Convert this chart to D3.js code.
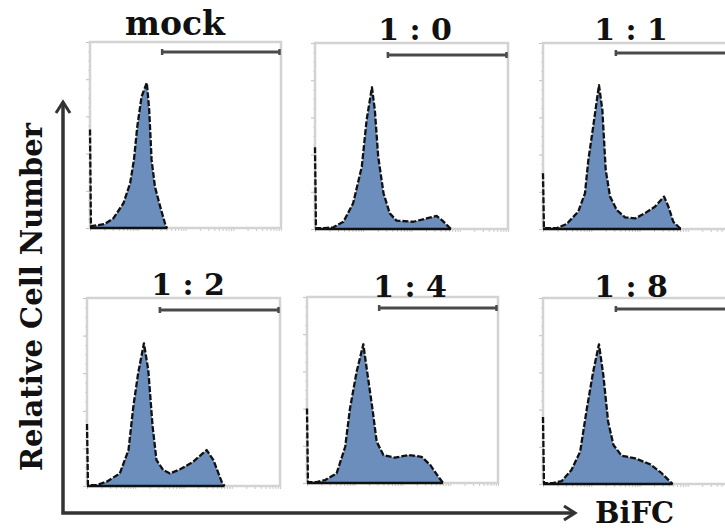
<!DOCTYPE html>
<html>
<head>
<meta charset="utf-8">
<script src="https://cdn.jsdelivr.net/npm/d3@7/dist/d3.min.js"></script>
<style>
body { margin: 0; background: #fff; }
svg { display: block; }
</style>
</head>
<body>
<svg></svg>
<script>
// sample names, one panel each
const samples = ["mock", "1 : 0", "1 : 1", "1 : 2", "1 : 4", "1 : 8"];

// histogram outlines: [log decade, % of panel height]
const mock = [[0, 53], [0.02, 1], [0.15, 1.5], [0.31, 2.2], [0.49, 5.2], [0.70, 13.3], [0.84, 24], [0.92, 36.6], [0.99, 54.5], [1.08, 70.6], [1.19, 78.1], [1.24, 63.4], [1.29, 36.6], [1.36, 22.2], [1.47, 11.5], [1.59, 0.7], [1.62, 0]];
const ratio10 = [[0, 44], [0.02, 0.5], [0.2, 0.5], [0.38, 0.9], [0.59, 3.9], [0.79, 13.8], [0.97, 33.5], [1.07, 58.6], [1.18, 76.2], [1.24, 64], [1.31, 38.9], [1.42, 19.2], [1.55, 8.4], [1.69, 4.5], [2.04, 3.9], [2.31, 5.7], [2.52, 7.0], [2.63, 4.8], [2.80, 0.4], [2.82, 0]];
const ratio11 = [[0, 30], [0.02, 0.4], [0.28, 0.4], [0.49, 2.7], [0.73, 9.3], [0.87, 19.2], [0.94, 37.1], [1.04, 55], [1.16, 77.4], [1.23, 64], [1.30, 31.7], [1.39, 17.4], [1.53, 10.2], [1.70, 6.3], [1.91, 5.7], [2.11, 8.4], [2.32, 12], [2.51, 17.4], [2.60, 12], [2.70, 3.9], [2.84, 0.4], [2.86, 0]];
const ratio12 = [[0, 33], [0.02, 0.5], [0.2, 0.5], [0.41, 2.3], [0.68, 6.7], [0.86, 19.1], [0.96, 42.2], [1.06, 60], [1.18, 75.9], [1.27, 61.7], [1.36, 31.6], [1.44, 13.8], [1.58, 8.5], [1.72, 6.7], [1.93, 8.9], [2.20, 12.9], [2.48, 19.1], [2.62, 13.8], [2.79, 2.3], [2.85, 0]];
const ratio14 = [[0, 40], [0.02, 0.5], [0.2, 0.5], [0.38, 1.6], [0.62, 5.2], [0.80, 19.5], [0.90, 40], [1.04, 59.9], [1.18, 74.6], [1.25, 61.6], [1.37, 40], [1.46, 22.2], [1.60, 15], [1.84, 13.6], [2.12, 15], [2.40, 14.1], [2.58, 9.7], [2.75, 3.4], [2.85, 0]];
const ratio18 = [[0, 36], [0.02, 0.5], [0.2, 0.5], [0.39, 1.6], [0.59, 7.5], [0.77, 17.4], [0.91, 40.7], [1.04, 60.4], [1.16, 75.1], [1.25, 58.6], [1.35, 33.5], [1.46, 21], [1.63, 15.2], [1.91, 13.8], [2.22, 10.6], [2.46, 5.8], [2.67, 0.4], [2.69, 0]];
const histograms = [mock, ratio10, ratio11, ratio12, ratio14, ratio18];

// BiFC+ gate, in decades
const gate = [1.49, 4];

const axisLabels = ["Relative Cell Number", "BiFC"];

const width = 725;
const height = 529;
const fill = "#6b8ebd";
const font = "'DejaVu Serif', 'Liberation Serif', serif";

// panel boxes (tx/ty = title position, gy = gate offset from top)
const panels = [
	{ left: 90, top: 42, w: 191, h: 186, tx: 85, ty: -7, gy: 10 },
	{ left: 315, top: 43, w: 193, h: 186, tx: 100, ty: -3, gy: 12 },
	{ left: 543, top: 43, w: 193, h: 186, tx: 88, ty: -3, gy: 10 },
	{ left: 87, top: 298, w: 193, h: 188, tx: 101, ty: -3, gy: 12 },
	{ left: 307, top: 297, w: 191, h: 186, tx: 103, ty: 0, gy: 11 },
	{ left: 543, top: 298, w: 193, h: 186, tx: 88, ty: -1, gy: 11 }
];

const svg = d3
	.select("svg")
	.attr("width", width)
	.attr("height", height);

panels.forEach(function (p, i) {
	const data = histograms[i];

	const x = d3.scaleLinear().domain([0, 4]).range([0, p.w]);
	const y = d3.scaleLinear().domain([0, 100]).range([p.h, 0]);
	const xLog = d3.scaleLog().domain([1, 1e4]).range([0, p.w]);

	const g = svg
		.append("g")
		.attr("class", "panel")
		.attr("transform", `translate(${p.left}, ${p.top})`);

	// faint ticks around the frame
	g.append("g")
		.attr("transform", `translate(0, ${p.h})`)
		.call(d3.axisBottom(xLog).tickSize(3).tickFormat(""))
		.call((a) => a.select(".domain").remove())
		.selectAll("line")
		.attr("stroke", "#c8c8c8");

	g.append("g")
		.call(d3.axisLeft(y).ticks(20).tickSize(2).tickFormat(""))
		.call((a) => a.select(".domain").remove())
		.selectAll("line")
		.attr("stroke", "#d4d4d4");

	g.append("g")
		.call(d3.axisLeft(y).ticks(4).tickSize(4).tickFormat(""))
		.call((a) => a.select(".domain").remove())
		.selectAll("line")
		.attr("stroke", "#c0c0c0");

	// frame
	g.append("rect")
		.attr("width", p.w)
		.attr("height", p.h)
		.attr("fill", "none")
		.attr("stroke", "#d3d3d3")
		.attr("stroke-width", 2.5);

	// histogram
	const area = d3
		.area()
		.x((d) => x(d[0]))
		.y0(y(0))
		.y1((d) => y(d[1]));

	const line = d3
		.line()
		.x((d) => x(d[0]))
		.y((d) => y(d[1]));

	g.append("path")
		.datum(data)
		.attr("d", area)
		.attr("fill", fill);

	g.append("path")
		.datum(data)
		.attr("d", line)
		.attr("fill", "none")
		.attr("stroke", "#111")
		.attr("stroke-width", 2.3)
		.attr("stroke-dasharray", "6 2")
		.attr("stroke-linejoin", "round");

	g.append("line")
		.attr("x1", x(0))
		.attr("x2", x(d3.max(data, (d) => d[0])))
		.attr("y1", y(0))
		.attr("y2", y(0))
		.attr("stroke", "#111")
		.attr("stroke-width", 2.5);

	// gate bar
	const gate_g = g.append("g").attr("stroke", "#4a4a4a");
	gate_g.append("line")
		.attr("x1", x(gate[0]))
		.attr("x2", x(gate[1]) - 1)
		.attr("y1", p.gy)
		.attr("y2", p.gy)
		.attr("stroke-width", 3.2);
	gate_g.selectAll(".cap")
		.data(gate)
		.enter()
		.append("line")
		.attr("class", "cap")
		.attr("x1", (d, k) => x(d) + (k ? -1.5 : 1))
		.attr("x2", (d, k) => x(d) + (k ? -1.5 : 1))
		.attr("y1", p.gy - 3)
		.attr("y2", p.gy + 3)
		.attr("stroke-width", 2.5);

	// title
	g.append("text")
		.text(samples[i])
		.attr("x", p.tx)
		.attr("y", p.ty)
		.attr("text-anchor", "middle")
		.attr("font-family", font)
		.attr("font-weight", "bold")
		.attr("font-size", i == 0 ? 33 : 30)
		.attr("fill", "#111");
});

// big axis arrows
const arrows = svg
	.append("g")
	.attr("fill", "none")
	.attr("stroke", "#333")
	.attr("stroke-width", 3.5);

arrows.append("path").attr("d", "M63,102 L63,513 L574,513");
arrows.append("path").attr("d", "M56,113 L63,102 L70,113").attr("stroke-width", 3);
arrows.append("path").attr("d", "M564,506 L575,513 L564,520").attr("stroke-width", 3);

svg
	.append("text")
	.text(axisLabels[0])
	.attr("transform", "translate(42, 297) rotate(-90)")
	.attr("text-anchor", "middle")
	.attr("font-family", font)
	.attr("font-weight", "bold")
	.attr("font-size", 29)
	.attr("fill", "#111");

svg
	.append("text")
	.text(axisLabels[1])
	.attr("x", 595)
	.attr("y", 523)
	.attr("font-family", font)
	.attr("font-weight", "bold")
	.attr("font-size", 29)
	.attr("fill", "#111");
</script>
</body>
</html>
